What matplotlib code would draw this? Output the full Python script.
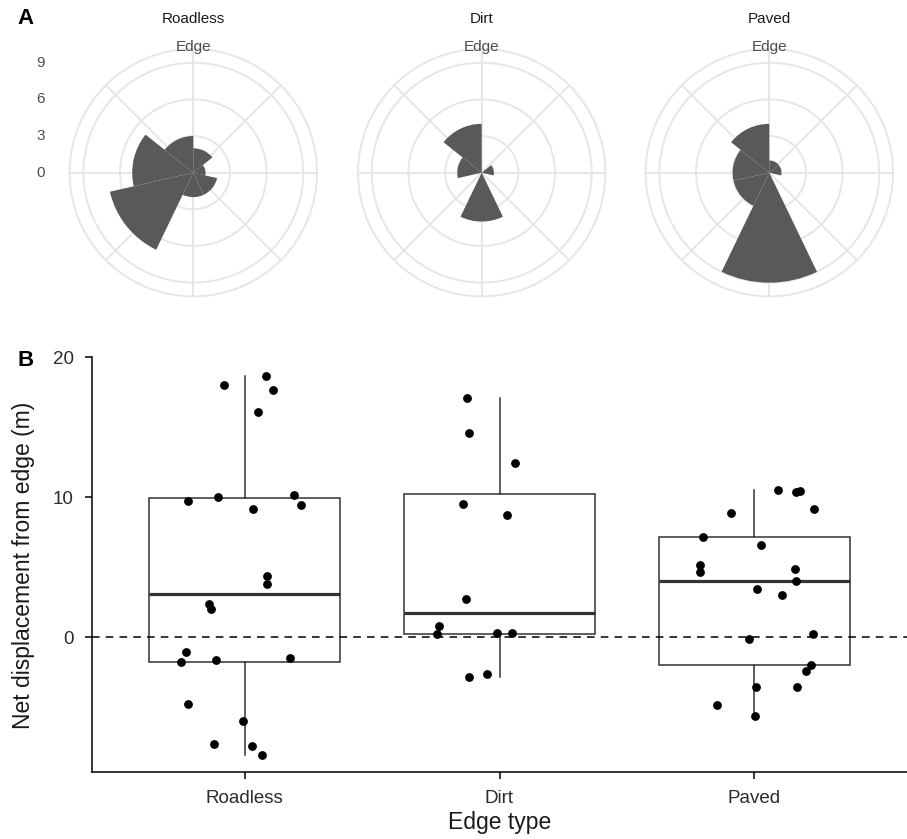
import numpy as np
import matplotlib.pyplot as plt

plt.rcParams['font.family'] = ['Liberation Sans', 'DejaVu Sans']

# categories
edge_types = ['Roadless', 'Dirt', 'Paved']

# panel A: direction counts in 7 bins, clockwise from "Edge" (north)
rose_counts = {
    'Roadless': [2, 1, 2, 2, 7, 5, 3],
    'Dirt':     [0, 1, 0, 4, 0, 2, 4],
    'Paved':    [1, 1, 0, 9, 3, 3, 4],
}
r_ticks = [0, 3, 6, 9]

# panel B: net displacement (m) and horizontal jitter
roadless_y = [18.0, 18.66, 17.66, 16.07, 9.69, 10.02, 9.12, 10.12, 9.43, 4.36, 3.76,
              2.38, 1.98, -1.05, -1.79, -1.64, -1.48, -4.76, -6.02, -7.64, -7.76, -8.40]
roadless_jit = [-0.083, 0.083, 0.111, 0.052, -0.224, -0.105, 0.031, 0.192, 0.219, 0.089, 0.088,
                -0.139, -0.131, -0.231, -0.251, -0.114, 0.176, -0.223, -0.007, -0.122, 0.030, 0.068]
dirt_y = [17.05, 14.57, 12.45, 9.5, 8.74, 2.71, 0.79, 0.19, 0.26, 0.31, -2.62, -2.88]
dirt_jit = [-0.126, -0.119, 0.062, -0.143, 0.030, -0.130, -0.239, -0.245, -0.009, 0.049, -0.050, -0.118]
paved_y = [10.52, 10.38, 10.45, 9.17, 8.86, 7.12, 6.55, 5.17, 4.62, 4.86, 4.02,
           3.43, 2.98, 0.21, -0.14, -2.0, -2.45, -3.6, -3.57, -4.88, -5.62]
paved_jit = [0.094, 0.163, 0.178, 0.233, -0.093, -0.202, 0.026, -0.213, -0.211, 0.159, 0.163,
             0.013, 0.110, 0.231, -0.019, 0.223, 0.205, 0.007, 0.169, -0.146, 0.005]

W, H = 907, 839
fig = plt.figure(figsize=(W / 100, H / 100), dpi=100)

grid_col = '#E6E6E6'
txt_grey = '#4D4D4D'

# ---- panel A: rose diagrams
centers = [193.3, 481.7, 769.3]
cy = 172.7
rad_px = 123.7
rmax = 9 * 1.125
nb = 7
for k, name in enumerate(edge_types):
    left = (centers[k] - rad_px) / W
    bottom = 1 - (cy + rad_px) / H
    ax = fig.add_axes([left, bottom, 2 * rad_px / W, 2 * rad_px / H], projection='polar')
    ax.set_theta_zero_location('N')
    ax.set_theta_direction(-1)
    th = np.arange(nb) * 2 * np.pi / nb
    ax.bar(th, rose_counts[name], width=2 * np.pi / nb, align='edge',
           color='#595959', edgecolor='none', zorder=3)
    ax.set_ylim(0, rmax)
    ax.set_yticks([3, 6, 9])
    ax.set_yticklabels([])
    ax.set_xticks(np.deg2rad(np.arange(0, 360, 45)))
    ax.set_xticklabels([])
    ax.set_axisbelow(True)
    ax.grid(True, color=grid_col, lw=1.4)
    ax.spines['polar'].set_color(grid_col)
    ax.spines['polar'].set_linewidth(1.4)
    ax.tick_params(length=0)
    ax.text(0.5, 1 + 2 / (2 * rad_px), 'Edge', transform=ax.transAxes,
            ha='center', va='center', fontsize=11, color=txt_grey)
    ax.text(0.5, 1 + 30 / (2 * rad_px), name, transform=ax.transAxes,
            ha='center', va='center', fontsize=11, color='#1A1A1A')
    if k == 0:
        for r in r_ticks:
            ax.text(-0.1, 0.5 + r / (2 * rmax), str(r), transform=ax.transAxes,
                    ha='right', va='center', fontsize=11, color=txt_grey)

fig.text(26 / W, 1 - 19 / H, 'A', fontsize=16, fontweight='bold', ha='center', va='center')
fig.text(26 / W, 1 - 360 / H, 'B', fontsize=16, fontweight='bold', ha='center', va='center')

# ---- panel B: boxplot + jittered points
axb = fig.add_axes([92 / W, 1 - 772 / H, (W - 92) / W, (772 - 357) / H])
groups = [roadless_y, dirt_y, paved_y]
jits = [roadless_jit, dirt_jit, paved_jit]
box_col = '#333333'
axb.boxplot(groups, positions=[1, 2, 3], widths=0.75, whis=1.5, showfliers=False,
            patch_artist=True,
            boxprops=dict(facecolor='white', edgecolor=box_col, lw=1.1),
            whiskerprops=dict(color=box_col, lw=1.1),
            capprops=dict(lw=0),
            medianprops=dict(color=box_col, lw=2.3),
            zorder=2)
axb.axhline(0, color='black', lw=1.1, ls=(0, (5, 4)), zorder=3)
for i, (g, j) in enumerate(zip(groups, jits)):
    axb.scatter(np.array(j) + i + 1, g, s=40, color='black', zorder=4, linewidths=0)

axb.set_xlim(0.4, 3.6)
axb.set_ylim((637 - 772) / 14, 20)
axb.set_yticks([0, 10, 20])
axb.set_xticks([1, 2, 3])
axb.set_xticklabels(edge_types)
for s in ['top', 'right']:
    axb.spines[s].set_visible(False)
for s in ['left', 'bottom']:
    axb.spines[s].set_linewidth(1.1)
axb.tick_params(axis='both', labelsize=13.5, length=5, width=1.1, colors='black',
                labelcolor='#2B2B2B')
axb.tick_params(axis='x', pad=8)
axb.tick_params(axis='y', pad=8)

fig.text(24 / W, 1 - 565 / H, 'Net displacement from edge (m)', rotation=90,
         ha='center', va='center', fontsize=16.5, color='#1A1A1A')
fig.text(499.5 / W, 1 - 822 / H, 'Edge type', ha='center', va='center',
         fontsize=16.5, color='#1A1A1A')

fig.savefig('out.png', dpi=100)
